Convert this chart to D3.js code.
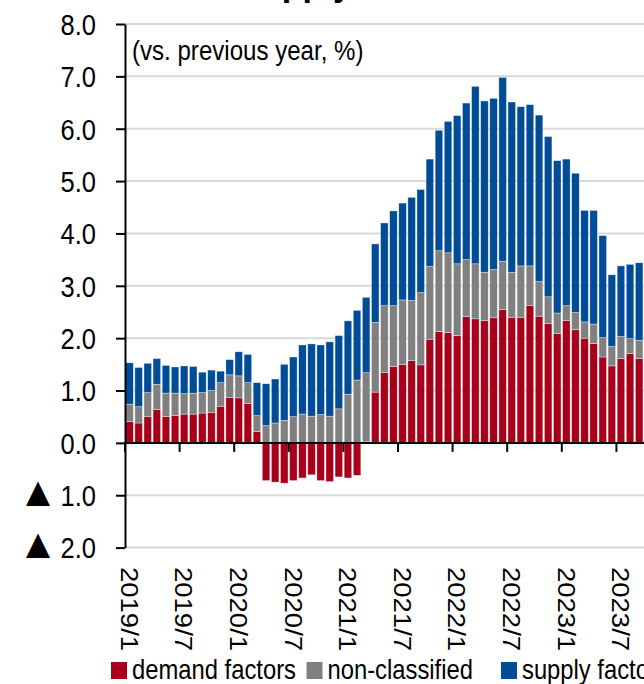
<!DOCTYPE html>
<html>
<head>
<meta charset="utf-8">
<script src="https://cdn.jsdelivr.net/npm/d3@7"></script>
<style>
body { margin: 0; background: #fff; }
text { font-family: "Liberation Sans", Arial, sans-serif; fill: #000; }
</style>
</head>
<body>
<div id="chart"></div>
<script>
// months 2019/1 .. 2023/9
var months = [];
for (var yr = 2019; yr <= 2023; yr++) {
    for (var m = 1; m <= 12; m++) {
        if (months.length < 57) months.push(yr + "/" + m);
    }
}

var demand = [0.41,0.38,0.50,0.64,0.50,0.52,0.55,0.55,0.57,0.58,0.70,0.87,0.86,0.75,0.22,
    -0.72,-0.75,-0.77,-0.72,-0.67,-0.61,-0.72,-0.74,-0.65,-0.67,-0.62,0.02,
    0.97,1.34,1.46,1.50,1.57,1.49,1.98,2.13,2.11,2.05,2.41,2.37,2.34,2.39,2.55,2.40,2.40,2.62,
    2.42,2.28,2.09,2.34,2.16,2.00,1.90,1.64,1.47,1.61,1.71,1.61];
var nonClassified = [0.33,0.31,0.46,0.48,0.45,0.43,0.39,0.40,0.39,0.42,0.45,0.43,0.42,0.40,0.30,
    0.33,0.38,0.43,0.50,0.55,0.51,0.54,0.51,0.65,0.93,1.20,1.32,1.33,1.28,1.16,1.23,1.15,1.38,
    1.39,1.54,1.52,1.37,1.09,1.05,0.92,0.92,0.92,0.86,0.98,0.76,0.66,0.51,0.39,0.28,0.33,0.31,
    0.37,0.37,0.37,0.42,0.28,0.35];
var supply = [0.79,0.75,0.56,0.49,0.53,0.50,0.53,0.51,0.39,0.39,0.22,0.29,0.46,0.54,0.63,
    0.80,0.84,1.07,1.14,1.32,1.38,1.33,1.42,1.40,1.40,1.33,1.44,1.50,1.58,1.81,1.85,1.97,1.97,
    2.05,2.30,2.51,2.83,2.99,3.39,3.27,3.27,3.51,3.25,3.04,3.08,3.18,3.06,2.91,2.80,2.66,2.13,
    2.17,1.95,1.37,1.35,1.42,1.48];

var yTicks = [-2, -1, 0, 1, 2, 3, 4, 5, 6, 7, 8];
var xTickLabels = ["2019/1","2019/7","2020/1","2020/7","2021/1","2021/7","2022/1","2022/7","2023/1","2023/7"];
var seriesKeys = ["demand", "nonClassified", "supply"];
var seriesNames = ["demand factors", "non-classified", "supply factors"];
var seriesColors = ["#a8001a", "#808080", "#004c97"];

var width = 644, height = 684;
var sx = 0.85;   // the source font is a bit condensed

var svg = d3.select("#chart").append("svg")
    .attr("width", width)
    .attr("height", height);

var rows = months.map(function (d, i) {
    return { month: d, demand: demand[i], nonClassified: nonClassified[i], supply: supply[i] };
});

var x = d3.scaleBand()
    .domain(months)
    .range([125, 125 + months.length * 9.1])
    .paddingInner(0.17)
    .paddingOuter(0.085);

var y = d3.scaleLinear()
    .domain([-2, 8])
    .range([547.6, 24]);

//title (only descenders show at the top edge)
svg.append("text")
    .attr("transform", "translate(238,-5.5) scale(0.9,1)")
    .style("font-size", "38px")
    .style("font-weight", "bold")
    .text("Supply and demand factors");

//grid lines
svg.append("g").selectAll("line")
    .data(yTicks.filter(function (d) { return d !== 0; }))
    .enter().append("line")
    .attr("x1", 125).attr("x2", width)
    .attr("y1", function (d) { return y(d); })
    .attr("y2", function (d) { return y(d); })
    .attr("stroke", "#d9d9d9")
    .attr("stroke-width", 2);

//stacked bars
var stack = d3.stack().keys(seriesKeys).offset(d3.stackOffsetDiverging);
var layers = stack(rows);

svg.append("g").selectAll("g")
    .data(layers)
    .enter().append("g")
    .attr("fill", function (d, i) { return seriesColors[i]; })
    .selectAll("rect")
    .data(function (d) { return d; })
    .enter().append("rect")
    .attr("x", function (d) { return x(d.data.month); })
    .attr("width", x.bandwidth())
    .attr("y", function (d) { return y(Math.max(d[0], d[1])); })
    .attr("height", function (d) { return Math.abs(y(d[0]) - y(d[1])); })
    .attr("stroke", "#ffffff")
    .attr("stroke-opacity", 0.6)
    .attr("stroke-width", 0.6);

//y axis
var yAxis = svg.append("g")
    .attr("transform", "translate(125,0)")
    .call(d3.axisLeft(y).tickValues(yTicks).tickSize(9).tickSizeOuter(0).tickFormat(""));
yAxis.select(".domain").attr("stroke", "#000").attr("stroke-width", 2);
yAxis.selectAll(".tick line").attr("stroke", "#000").attr("stroke-width", 2);

var yLabels = svg.append("g").selectAll("text")
    .data(yTicks)
    .enter().append("text")
    .attr("transform", function (d) { return "translate(96," + y(d) + ") scale(" + sx + ",1)"; })
    .attr("text-anchor", "end")
    .attr("dy", "0.36em")
    .style("font-size", "30px");
yLabels.filter(function (d) { return d < 0; })
    .append("tspan")
    .style("font-family", "'Noto Sans CJK JP', sans-serif")
    .style("font-size", "30px")
    .text("\u25B2 ");
yLabels.append("tspan")
    .attr("dx", function (d) { return d < 0 ? 5 : 0; })
    .text(function (d) { return Math.abs(d).toFixed(1); });

//x axis line and ticks
var y0 = y(0);
svg.append("line")
    .attr("x1", 124).attr("x2", width)
    .attr("y1", y0).attr("y2", y0)
    .attr("stroke", "#000").attr("stroke-width", 2);

var tickMonths = months.filter(function (d, i) { return i % 6 === 0; });
svg.append("g").selectAll("line")
    .data(tickMonths)
    .enter().append("line")
    .attr("x1", function (d) { return x(d) - x.step() * x.paddingInner() / 2; })
    .attr("x2", function (d) { return x(d) - x.step() * x.paddingInner() / 2; })
    .attr("y1", y0).attr("y2", y0 + 9)
    .attr("stroke", "#000").attr("stroke-width", 2);

svg.append("g").selectAll("text")
    .data(xTickLabels)
    .enter().append("text")
    .attr("transform", function (d) {
        return "translate(" + (x(d) + x.bandwidth() / 2) + ",567) rotate(90) scale(1,0.9)";
    })
    .attr("dy", "0.35em")
    .style("font-size", "27.5px")
    .text(function (d) { return d; });

//annotation
svg.append("text")
    .attr("transform", "translate(132,60) scale(0.86,1)")
    .style("font-size", "28px")
    .text("(vs. previous year, %)");

//legend
var legendX = [111, 306.5, 501];
var legend = svg.append("g").selectAll("g")
    .data(seriesNames)
    .enter().append("g")
    .attr("transform", function (d, i) { return "translate(" + legendX[i] + ",662)"; });
legend.append("rect")
    .attr("width", 16).attr("height", 17)
    .attr("fill", function (d, i) { return seriesColors[i]; });
legend.append("text")
    .attr("transform", "translate(21,16.5) scale(" + sx + ",1)")
    .style("font-size", "28px")
    .text(function (d) { return d; });
</script>
</body>
</html>
